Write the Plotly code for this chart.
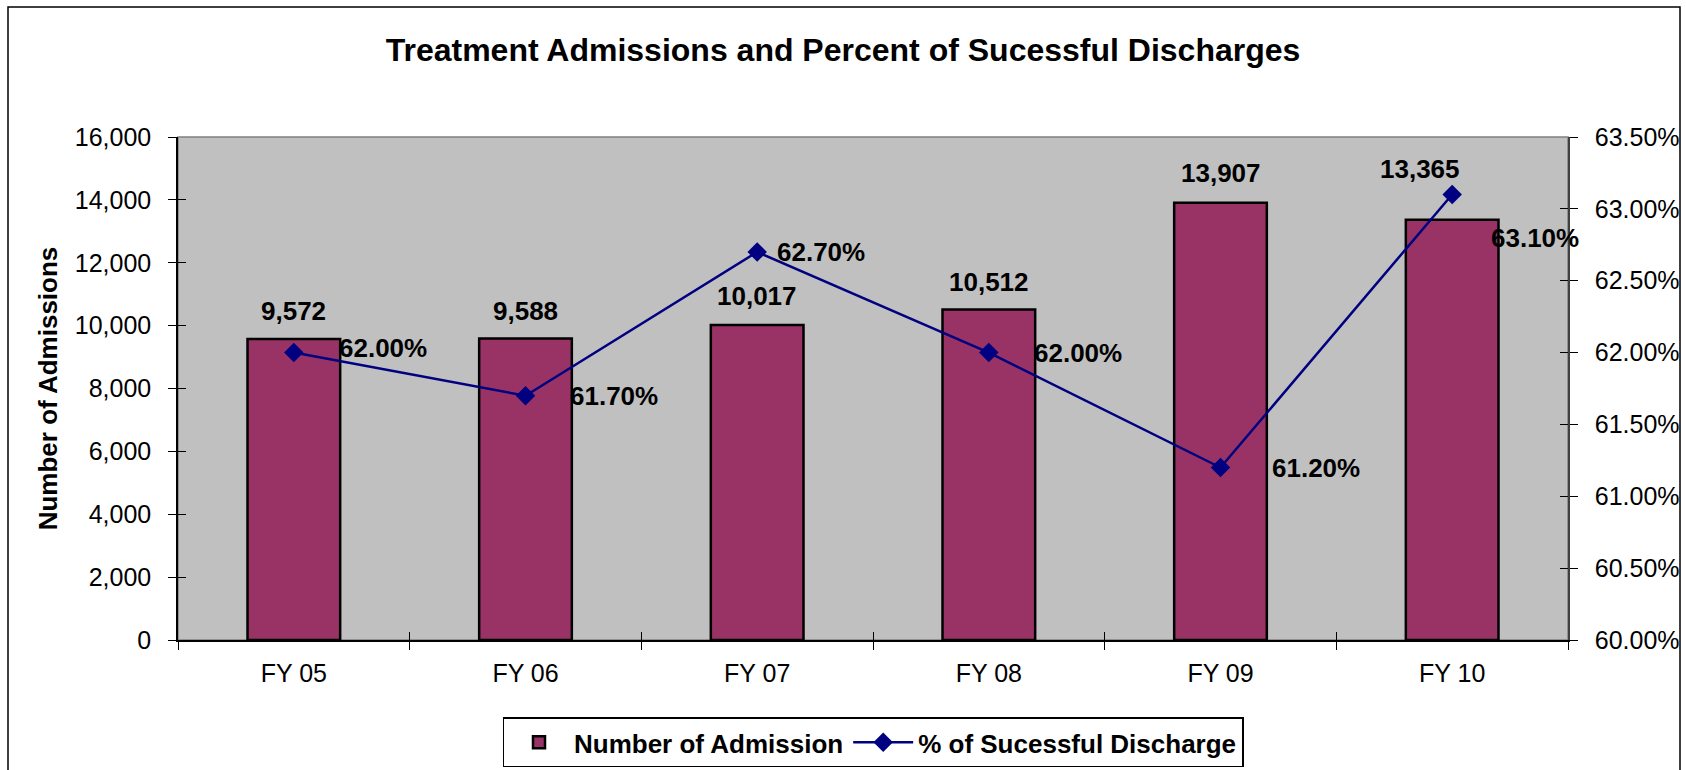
import plotly.graph_objects as go

# Fiscal years and the two series plotted against them
years = ["FY 05", "FY 06", "FY 07", "FY 08", "FY 09", "FY 10"]
admissions = [9572, 9588, 10017, 10512, 13907, 13365]
discharge_pct = [0.620, 0.617, 0.627, 0.620, 0.612, 0.631]

# Pixel nudges for the value labels (x, y), per year
bar_label_shift = [(0, 28), (0, 28), (0, 29), (0, 28), (0, 30), (-32, 51)]
pct_label_shift = [(43, 5), (42, 0), (18, 0), (43, 0), (49, 0), (37, -44)]

FONT = "Liberation Sans, Arial, sans-serif"
BAR_COLOR = "#993366"
LINE_COLOR = "#000080"
X_RANGE = [-0.5, len(years) - 0.5]

fig = go.Figure()

fig.add_trace(go.Bar(
    x=years, y=admissions, name="Number of Admission",
    marker=dict(color=BAR_COLOR, line=dict(color="black", width=2.5)),
    width=0.4, yaxis="y", xaxis="x",
))

fig.add_trace(go.Scatter(
    x=years, y=discharge_pct, name="% of Sucessful Discharge",
    mode="lines+markers", yaxis="y2", xaxis="x",
    line=dict(color=LINE_COLOR, width=2.5),
    marker=dict(symbol="diamond", size=15, color=LINE_COLOR),
))

annotations = []
for yr, val, (dx, dy) in zip(years, admissions, bar_label_shift):
    annotations.append(dict(
        x=yr, y=val, xref="x", yref="y", text=f"{val:,}", showarrow=False,
        xanchor="center", yanchor="middle", xshift=dx, yshift=dy,
        font=dict(family=FONT, size=26, color="black", weight="bold"),
    ))
for yr, val, (dx, dy) in zip(years, discharge_pct, pct_label_shift):
    annotations.append(dict(
        x=yr, y=val, xref="x", yref="y2", text=f"{val * 100:.2f}%", showarrow=False,
        xanchor="left", yanchor="middle", xshift=dx, yshift=dy,
        font=dict(family=FONT, size=26, color="black", weight="bold"),
    ))

tick_font = dict(family=FONT, size=25, color="black")

fig.update_layout(
    width=1686, height=770, autosize=False,
    margin=dict(l=178, r=118, t=137, b=130, autoexpand=False),
    paper_bgcolor="white", plot_bgcolor="#C0C0C0",
    bargap=0.6,
    title=dict(
        text="Treatment Admissions and Percent of Sucessful Discharges",
        x=0.5, xanchor="center", y=1 - 50 / 770, yanchor="middle",
        font=dict(family=FONT, size=32, color="black", weight="bold"),
    ),
    xaxis=dict(
        type="category", range=X_RANGE, showgrid=False, zeroline=False,
        showline=True, linecolor="black", linewidth=1.5,
        ticks="outside", ticklen=8, tickcolor="black", tickwidth=1.2,
        tickson="boundaries", tickfont=tick_font, ticklabelstandoff=10,
    ),
    xaxis2=dict(
        type="category", range=X_RANGE, overlaying="x", showgrid=False,
        zeroline=False, showline=False, showticklabels=False,
        ticks="inside", ticklen=8, tickcolor="black", tickwidth=1.2,
        tickson="boundaries", side="bottom",
    ),
    yaxis=dict(
        range=[0, 16000], dtick=2000, tickformat=",d", showgrid=False,
        zeroline=False, showline=True, linecolor="black", linewidth=1.5,
        ticks="outside", ticklen=8, tickcolor="black", tickwidth=1.2,
        tickfont=tick_font, ticklabelstandoff=12,
        title=dict(text="Number of Admissions", standoff=10,
                   font=dict(family=FONT, size=26, color="black", weight="bold")),
    ),
    yaxis3=dict(
        range=[0, 16000], dtick=2000, overlaying="y", showgrid=False,
        zeroline=False, showline=False, showticklabels=False,
        ticks="inside", ticklen=8, tickcolor="black", tickwidth=1.2,
    ),
    yaxis2=dict(
        range=[0.60, 0.635], dtick=0.005, tickformat=".2%", overlaying="y",
        side="right", showgrid=False, zeroline=False,
        showline=True, linecolor="#404040", linewidth=1.5,
        ticks="outside", ticklen=8, tickcolor="black", tickwidth=1.2,
        tickfont=tick_font, ticklabelstandoff=12,
    ),
    yaxis4=dict(
        range=[0.60, 0.635], dtick=0.005, overlaying="y", side="right",
        showgrid=False, zeroline=False, showline=False, showticklabels=False,
        ticks="inside", ticklen=8, tickcolor="black", tickwidth=1.2,
    ),
    legend=dict(
        orientation="h", x=0.5, xanchor="center", y=-0.154, yanchor="top",
        bgcolor="white", bordercolor="black", borderwidth=1.5,
        font=dict(family=FONT, size=26, color="black", weight="bold"),
        itemwidth=60, tracegroupgap=0,
    ),
    annotations=annotations,
    shapes=[
        # plot-area border
        dict(type="rect", xref="paper", yref="paper", x0=0, x1=1, y0=0, y1=1,
             line=dict(color="#808080", width=1.5), layer="below"),
        # outer chart frame
        dict(type="rect", xref="paper", yref="paper",
             x0=(8 - 178) / 1390, x1=(1680 - 178) / 1390,
             y0=(640 - 775) / 503, y1=(640 - 7) / 503,
             line=dict(color="black", width=1.5), layer="above"),
    ],
    showlegend=True,
)

# invisible traces that carry the inside tick marks
fig.add_trace(go.Scatter(x=years, y=admissions, xaxis="x2", yaxis="y3",
                         mode="none", showlegend=False, hoverinfo="skip"))
fig.add_trace(go.Scatter(x=years, y=discharge_pct, xaxis="x2", yaxis="y4",
                         mode="none", showlegend=False, hoverinfo="skip"))

fig.write_html("out.html")
